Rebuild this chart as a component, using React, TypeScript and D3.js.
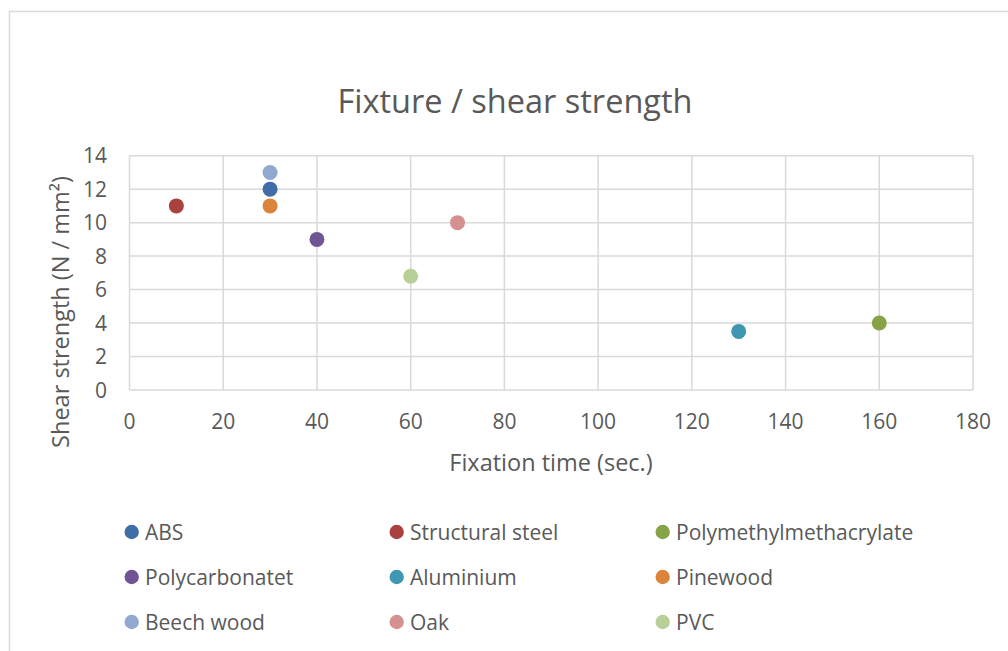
import React from "react";
import * as d3 from "d3";

const seriesNames = [
  "ABS",
  "Structural steel",
  "Polymethylmethacrylate",
  "Polycarbonatet",
  "Aluminium",
  "Pinewood",
  "Beech wood",
  "Oak",
  "PVC",
];
const fixationTimes = [30, 10, 160, 40, 130, 30, 30, 70, 60];
const shearStrengths = [12, 11, 4, 9, 3.5, 11, 13, 10, 6.8];
const seriesColors = [
  "#3F6DA7",
  "#A9413E",
  "#86A345",
  "#6F5593",
  "#3F98B0",
  "#DC843C",
  "#91A8D1",
  "#D49190",
  "#B8CF97",
];
const xTicks = [0, 20, 40, 60, 80, 100, 120, 140, 160, 180];
const yTicks = [0, 2, 4, 6, 8, 10, 12, 14];

const FONT = "'Open Sans', sans-serif";
const TEXT = "#595959";
const GRID = "#D9D9D9";

export default function App() {
  const W = 1008;
  const H = 651;
  const plot = { left: 129.5, right: 973, top: 155.7, bottom: 390 };
  const x = d3.scaleLinear().domain([0, 180]).range([plot.left, plot.right]);
  const y = d3.scaleLinear().domain([0, 14]).range([plot.bottom, plot.top]);

  const legendCols = [131.7, 396.7, 662.7];
  const legendRows = [532, 577, 622];

  return (
    <svg
      width={W}
      height={H}
      style={{ position: "absolute", left: 0, top: 0, display: "block", background: "#fff" }}
    >
      <rect x={9.5} y={11.5} width={1200} height={1000} fill="#fff" stroke={GRID} strokeWidth={1.5} />
      <text
        x={515}
        y={113}
        textAnchor="middle"
        fontFamily={FONT}
        fontSize={32.5}
        fill={TEXT}
      >
        Fixture / shear strength
      </text>
      {/* grid */}
      {yTicks.map((t) => (
        <line
          key={"gy" + t}
          x1={plot.left}
          x2={plot.right}
          y1={y(t)}
          y2={y(t)}
          stroke={GRID}
          strokeWidth={1.5}
        />
      ))}
      {xTicks.map((t) => (
        <line
          key={"gx" + t}
          x1={x(t)}
          x2={x(t)}
          y1={plot.top}
          y2={plot.bottom}
          stroke={GRID}
          strokeWidth={1.5}
        />
      ))}
      {/* tick labels */}
      {yTicks.map((t) => (
        <text
          key={"ty" + t}
          x={107}
          y={y(t)}
          dy="0.36em"
          textAnchor="end"
          fontFamily={FONT}
          fontSize={21}
          fill={TEXT}
        >
          {t}
        </text>
      ))}
      {xTicks.map((t) => (
        <text
          key={"tx" + t}
          x={x(t)}
          y={429}
          textAnchor="middle"
          fontFamily={FONT}
          fontSize={21}
          fill={TEXT}
        >
          {t}
        </text>
      ))}
      {/* axis titles */}
      <text
        x={551}
        y={470.5}
        textAnchor="middle"
        fontFamily={FONT}
        fontSize={23.5}
        fill={TEXT}
      >
        Fixation time (sec.)
      </text>
      <text
        transform="translate(69,312) rotate(-90)"
        textAnchor="middle"
        fontFamily={FONT}
        fontSize={23.5}
        fill={TEXT}
      >
        Shear strength (N / mm²)
      </text>
      {/* points */}
      {seriesNames.map((name, i) => (
        <circle
          key={"p" + name}
          cx={x(fixationTimes[i])}
          cy={y(shearStrengths[i])}
          r={7.5}
          fill={seriesColors[i]}
        />
      ))}
      {/* legend */}
      {seriesNames.map((name, i) => {
        const cx = legendCols[i % 3];
        const cy = legendRows[Math.floor(i / 3)];
        return (
          <g key={"l" + name}>
            <circle cx={cx} cy={cy} r={7.2} fill={seriesColors[i]} />
            <text
              x={cx + 13.3}
              y={cy}
              dy="0.36em"
              fontFamily={FONT}
              fontSize={21}
              fill={TEXT}
            >
              {name}
            </text>
          </g>
        );
      })}
    </svg>
  );
}
